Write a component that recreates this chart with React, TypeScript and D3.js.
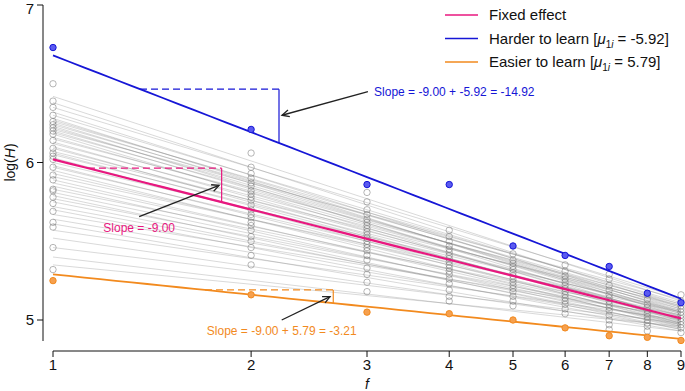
import React from "react";
import * as d3 from "d3";

// ---------- data ----------
const fValues = [1, 2, 3, 4, 5, 6, 7, 8, 9];
const xTicks = [1, 2, 3, 4, 5, 6, 7, 8, 9];
const yTicks = [5, 6, 7];

// individual subject lines: value of log(H) at f = 1 and at f = 9
const subjectStart = [
  6.42, 6.38, 6.35, 6.32, 6.30, 6.28, 6.27, 6.26, 6.25, 6.24, 6.23, 6.22, 6.21,
  6.20, 6.19, 6.18, 6.16, 6.15, 6.13, 6.12, 6.10, 6.09, 6.07, 6.06, 6.05, 6.03,
  6.02, 6.00, 5.98, 5.97, 5.95, 5.93, 5.91, 5.89, 5.87, 5.85, 5.83, 5.81, 5.79,
  5.77, 5.75, 5.72, 5.70, 5.67, 5.64, 5.61, 5.57, 5.52, 5.46, 5.40, 5.35,
];
const subjectEnd = [
  5.12, 5.08, 5.14, 5.05, 5.10, 5.02, 5.07, 5.11, 5.04, 5.09, 5.00, 5.06, 5.13,
  5.03, 5.08, 4.99, 5.05, 5.10, 5.01, 5.07, 4.98, 5.04, 5.09, 5.00, 5.05, 4.97,
  5.02, 5.06, 4.98, 5.03, 4.96, 5.01, 5.05, 4.97, 5.00, 4.95, 5.03, 4.98, 4.94,
  5.01, 4.96, 4.99, 4.94, 5.02, 4.97, 4.93, 5.00, 4.95, 4.98, 4.93, 4.96,
];

// observed gray points per f
const grayPoints: number[][] = [
  [6.50, 6.39, 6.35, 6.30, 6.26, 6.24, 6.22, 6.20, 6.18, 6.14, 6.09, 6.06, 6.04, 6.02, 5.97, 5.92, 5.89, 5.83, 5.82, 5.78, 5.74, 5.69, 5.62, 5.59, 5.46, 5.32],
  [6.06, 5.97, 5.93, 5.90, 5.87, 5.85, 5.82, 5.80, 5.78, 5.76, 5.73, 5.70, 5.67, 5.65, 5.62, 5.60, 5.57, 5.53, 5.50, 5.46, 5.41, 5.35],
  [5.81, 5.75, 5.70, 5.67, 5.64, 5.62, 5.60, 5.58, 5.56, 5.54, 5.52, 5.50, 5.48, 5.46, 5.44, 5.41, 5.38, 5.33, 5.29, 5.24, 5.18],
  [5.57, 5.53, 5.50, 5.47, 5.45, 5.43, 5.41, 5.39, 5.37, 5.35, 5.33, 5.31, 5.29, 5.26, 5.23, 5.19, 5.15, 5.12],
  [5.42, 5.38, 5.36, 5.34, 5.32, 5.30, 5.28, 5.26, 5.24, 5.22, 5.20, 5.18, 5.15, 5.12, 5.09],
  [5.35, 5.31, 5.28, 5.26, 5.24, 5.22, 5.20, 5.18, 5.16, 5.14, 5.12, 5.10, 5.07, 5.04],
  [5.29, 5.26, 5.22, 5.19, 5.16, 5.14, 5.12, 5.10, 5.08, 5.06, 5.03, 5.00, 4.97, 4.94],
  [5.16, 5.13, 5.10, 5.08, 5.06, 5.04, 5.02, 5.00, 4.98, 4.96, 4.93],
  [5.16, 5.12, 5.09, 5.07, 5.05, 5.03, 5.01, 4.99, 4.97, 4.95, 4.92],
];

// highlighted subjects' observed points
const harderPoints = [6.73, 6.21, 5.86, 5.86, 5.47, 5.41, 5.34, 5.17, 5.11];
const easierPoints = [5.25, 5.16, 5.05, 5.04, 5.00, 4.95, 4.90, 4.89, 4.87];

// fitted lines: [value at f=1, value at f=9]
const fixedLine = [6.02, 5.01];
const harderLine = [6.68, 5.135];
const easierLine = [5.29, 4.88];

const legendLabels = ["Fixed effect", "Harder to learn", "Easier to learn"];
const muValues = ["-5.92", "5.79"];
const slopeLabels = [
  "Slope = -9.00",
  "Slope = -9.00 + -5.92 = -14.92",
  "Slope = -9.00 + 5.79 = -3.21",
];

// ---------- styles ----------
const PINK = "#e8177f";
const BLUE = "#1616d6";
const ORANGE = "#f28a1e";
const FONT = "Helvetica, Arial, 'Liberation Sans', sans-serif";

const W = 685;
const H = 391;

const x = d3.scaleLog().domain([1, 9]).range([53, 681]);
const y = d3.scaleLinear().domain([5, 7]).range([320, 5]);

function lineAt(l: number[], f: number) {
  const t = Math.log(f) / Math.log(9);
  return l[0] + (l[1] - l[0]) * t;
}

function Arrow({ x1, y1, x2, y2 }: { x1: number; y1: number; x2: number; y2: number }) {
  const ang = Math.atan2(y2 - y1, x2 - x1);
  const len = 8;
  const spread = 0.45;
  const a1 = ang + Math.PI - spread;
  const a2 = ang + Math.PI + spread;
  return (
    <g stroke="#222" strokeWidth={1.3} fill="none">
      <line x1={x1} y1={y1} x2={x2} y2={y2} />
      <path
        d={`M${x2 + len * Math.cos(a1)},${y2 + len * Math.sin(a1)}L${x2},${y2}L${x2 + len * Math.cos(a2)},${y2 + len * Math.sin(a2)}`}
      />
    </g>
  );
}

function SlopeBox({ l, f0, f1, color }: { l: number[]; f0: number; f1: number; color: string }) {
  const yTop = y(lineAt(l, f0));
  const yBot = y(lineAt(l, f1));
  return (
    <g stroke={color} strokeWidth={1.2} fill="none">
      <line x1={x(f0)} y1={yTop} x2={x(f1)} y2={yTop} strokeDasharray="7,4" />
      <line x1={x(f1)} y1={yTop} x2={x(f1)} y2={yBot} />
    </g>
  );
}

export default function App() {
  const lineGen = (l: number[]) =>
    d3
      .line<number>()
      .x((f) => x(f))
      .y((f) => y(lineAt(l, f)))(d3.range(0, 41).map((i) => Math.exp((Math.log(9) * i) / 40))) as string;

  return (
    <svg
      width={W}
      height={H}
      style={{ position: "absolute", left: 0, top: 0, background: "#fff" }}
      fontFamily={FONT}
    >
      {/* gray subject lines */}
      <g stroke="#808080" strokeOpacity={0.3} strokeWidth={1} fill="none">
        {subjectStart.map((s, i) => (
          <line key={i} x1={x(1)} y1={y(s)} x2={x(9)} y2={y(subjectEnd[i])} />
        ))}
      </g>
      {/* gray points */}
      <g stroke="#7a7a7a" strokeOpacity={0.55} strokeWidth={1} fill="none">
        {grayPoints.map((col, i) =>
          col.map((v, j) => <circle key={`${i}-${j}`} cx={x(fValues[i])} cy={y(v)} r={3.2} />)
        )}
      </g>

      {/* fitted lines */}
      <path d={lineGen(easierLine)} stroke={ORANGE} strokeWidth={1.8} fill="none" />
      <path d={lineGen(fixedLine)} stroke={PINK} strokeWidth={2.2} fill="none" />
      <path d={lineGen(harderLine)} stroke={BLUE} strokeWidth={1.8} fill="none" />

      {/* highlighted points */}
      {harderPoints.map((v, i) => (
        <circle key={`h${i}`} cx={x(fValues[i])} cy={y(v)} r={3.2} fill="#5a5af0" stroke={BLUE} strokeWidth={1} />
      ))}
      {easierPoints.map((v, i) => (
        <circle key={`e${i}`} cx={x(fValues[i])} cy={y(v)} r={3.2} fill="#f6a04e" stroke={ORANGE} strokeWidth={1} />
      ))}

      {/* slope annotations */}
      <SlopeBox l={fixedLine} f0={1.13} f1={1.804} color={PINK} />
      <SlopeBox l={harderLine} f0={1.356} f1={2.205} color={BLUE} />
      <SlopeBox l={easierLine} f0={1.702} f1={2.666} color={ORANGE} />

      <Arrow x1={x(3.01)} y1={y(6.45)} x2={x(2.228)} y2={y(6.3)} />
      <Arrow x1={x(1.352)} y1={y(5.656)} x2={x(1.788)} y2={y(5.855)} />
      <Arrow x1={x(2.226)} y1={y(5.0)} x2={x(2.636)} y2={y(5.148)} />

      <text x={x(1.352)} y={y(5.584)} dy="0.35em" textAnchor="middle" fontSize={12} fill={PINK}>
        {slopeLabels[0]}
      </text>
      <text x={x(3.075)} y={y(6.447)} dy="0.35em" fontSize={12} fill={BLUE}>
        {slopeLabels[1]}
      </text>
      <text x={x(2.226)} y={y(4.93)} dy="0.35em" textAnchor="middle" fontSize={12} fill={ORANGE}>
        {slopeLabels[2]}
      </text>

      {/* legend */}
      {[PINK, BLUE, ORANGE].map((c, i) => (
        <g key={`lg${i}`} transform={`translate(0,${15 + i * 23.5})`}>
          <line x1={445} x2={478} y1={0} y2={0} stroke={c} strokeWidth={1.5} />
          <text x={489} y={0} dy="0.35em" fontSize={15} fill="#111">
            {legendLabels[i]}
            {i > 0 && (
              <>
                {" ["}
                <tspan fontStyle="italic">μ</tspan>
                <tspan fontSize={10} dy="4">1</tspan>
                <tspan fontSize={10} fontStyle="italic">i</tspan>
                <tspan dy="-4">{` = ${muValues[i - 1]}]`}</tspan>
              </>
            )}
          </text>
        </g>
      ))}

      {/* y axis */}
      <g stroke="#111" strokeWidth={1}>
        <line x1={43} x2={43} y1={y(7)} y2={341} />
        {yTicks.map((t) => (
          <line key={`yt${t}`} x1={37} x2={43} y1={y(t)} y2={y(t)} />
        ))}
      </g>
      {yTicks.map((t) => (
        <text key={`yl${t}`} x={34} y={Math.max(y(t), 9)} dy="0.36em" textAnchor="end" fontSize={15} fill="#111">
          {t}
        </text>
      ))}
      <text transform={`translate(15,${y(6)}) rotate(-90)`} textAnchor="middle" fontSize={14} fill="#111">
        log(<tspan fontStyle="italic">H</tspan>)
      </text>

      {/* x axis */}
      <g stroke="#111" strokeWidth={1}>
        <line x1={x(1)} x2={x(9)} y1={351} y2={351} />
        {xTicks.map((t) => (
          <line key={`xt${t}`} x1={x(t)} x2={x(t)} y1={351} y2={357} />
        ))}
      </g>
      {xTicks.map((t) => (
        <text key={`xl${t}`} x={x(t)} y={370} textAnchor="middle" fontSize={15} fill="#111">
          {t}
        </text>
      ))}
      <text x={x(3)} y={389} textAnchor="middle" fontSize={14} fontStyle="italic" fill="#111">
        f
      </text>
    </svg>
  );
}
